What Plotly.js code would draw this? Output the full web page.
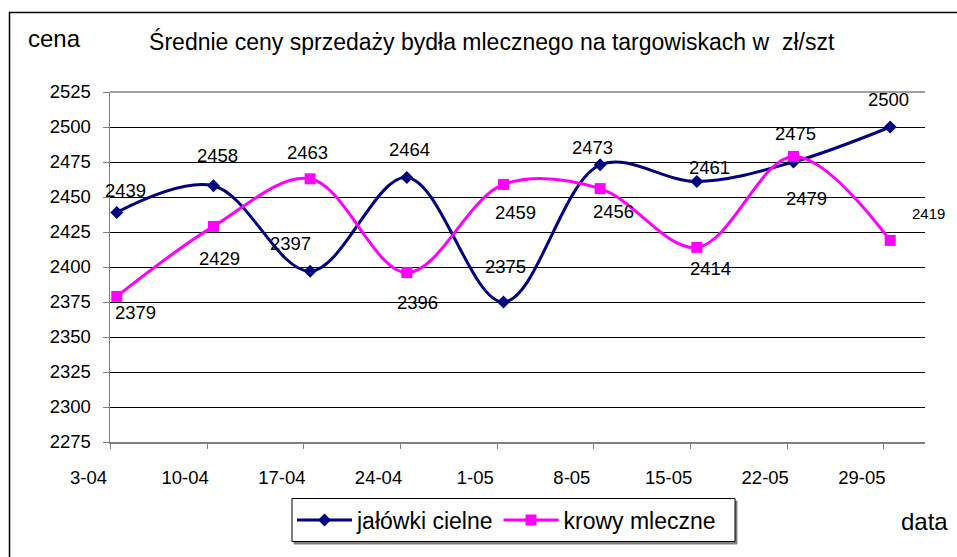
<!DOCTYPE html>
<html>
<head>
<meta charset="utf-8">
<script src="https://cdn.plot.ly/plotly-3.0.1.min.js"></script>
<style>
  html, body { margin: 0; padding: 0; background: #fff; }
  #chart { width: 957px; height: 557px; }
</style>
</head>
<body>
<div id="chart"></div>
<script>
// ---- data ----
const dates = ["3-04", "10-04", "17-04", "24-04", "1-05", "8-05", "15-05", "22-05", "29-05"];
const jalowki = [2439, 2458, 2397, 2464, 2375, 2473, 2461, 2475, 2500];
const krowy = [2379, 2429, 2463, 2396, 2459, 2456, 2414, 2479, 2419];
const seriesNames = ["jałówki cielne", "krowy mleczne"];
const yTicks = [2275, 2300, 2325, 2350, 2375, 2400, 2425, 2450, 2475, 2500, 2525];

// ---- label offsets (style, px) ----
const offA = [[9,-22],[4,-30],[-20,-28],[3,-28],[2,-36],[-8,-17],[13,-14],[2,-29],[-2,-28]];
const offB = [[19,16],[6,32],[-3,-26],[11,30],[12,28],[13,23],[14,21],[13,42],[38,-27]];

const FONT = "Arial, 'Liberation Sans', sans-serif";
const xIdx = dates.map((d, i) => i);

const traces = [
  {
    x: xIdx, y: jalowki, name: seriesNames[0], type: "scatter", mode: "lines+markers",
    line: { color: "#000080", width: 3, shape: "spline", smoothing: 1 },
    marker: { symbol: "diamond", size: 10, color: "#000080" }
  },
  {
    x: xIdx, y: krowy, name: seriesNames[1], type: "scatter", mode: "lines+markers",
    line: { color: "#FF00FF", width: 3, shape: "spline", smoothing: 1 },
    marker: { symbol: "square", size: 11, color: "#FF00FF" }
  }
];

const annotations = [];
jalowki.forEach((v, i) => annotations.push({
  x: i, y: v, xref: "x", yref: "y", text: String(v), showarrow: false,
  xanchor: "center", yanchor: "middle",
  xshift: offA[i][0], yshift: -offA[i][1], font: { family: FONT, size: 18.5, color: "#000" }
}));
krowy.forEach((v, i) => annotations.push({
  x: i, y: v, xref: "x", yref: "y", text: String(v), showarrow: false,
  xanchor: "center", yanchor: "middle",
  xshift: offB[i][0], yshift: -offB[i][1],
  font: { family: FONT, size: i === krowy.length - 1 ? 15 : 18.5, color: "#000" }
}));
annotations.push({
  x: -0.0687, y: 1.1517, xref: "paper", yref: "paper", text: "cena", showarrow: false,
  xanchor: "center", yanchor: "middle",
  font: { family: FONT, size: 24, color: "#000" }
});
annotations.push({
  x: 0.9988, y: -0.2274, xref: "paper", yref: "paper", text: "data", showarrow: false,
  xanchor: "center", yanchor: "middle",
  font: { family: FONT, size: 24, color: "#000" }
});

const layout = {
  width: 957, height: 557,
  margin: { l: 110, r: 32, t: 92, b: 115 },
  paper_bgcolor: "#fff", plot_bgcolor: "#fff",
  font: { family: FONT, color: "#000" },
  title: {
    text: "Średnie ceny sprzedaży bydła mlecznego na targowiskach w  zł/szt",
    font: { family: FONT, size: 23, color: "#000" },
    x: 0.5138, xref: "container", xanchor: "center",
    y: 0.9246, yref: "container", yanchor: "middle"
  },
  xaxis: {
    type: "linear", range: [-0.07, 8.36],
    tickmode: "array", tickvals: xIdx.map(i => i - 0.065), ticktext: dates,
    ticks: "outside", ticklen: 5, tickcolor: "#808080",
    showline: true, linecolor: "#808080", linewidth: 1.5,
    showgrid: false, zeroline: false,
    tickfont: { family: FONT, size: 18.5, color: "#000" },
    ticklabelshift: -22, ticklabelstandoff: 13
  },
  yaxis: {
    range: [2275, 2525], tickmode: "array", tickvals: yTicks,
    ticks: "outside", ticklen: 6, tickcolor: "#808080",
    showline: true, linecolor: "#808080", linewidth: 1.5,
    showgrid: true, gridcolor: "#000", gridwidth: 1, zeroline: false,
    tickfont: { family: FONT, size: 18.5, color: "#000" },
    ticklabelstandoff: 8
  },
  showlegend: true,
  legend: {
    orientation: "h", x: 0.2233, y: -0.2229, xanchor: "left", yanchor: "middle",
    borderwidth: 0, bgcolor: "rgba(0,0,0,0)", itemwidth: 55,
    font: { family: FONT, size: 23, color: "#000" }
  },
  shapes: [
    { type: "line", xref: "paper", yref: "paper", x0: 0, x1: 1, y0: 1, y1: 1,
      line: { color: "#808080", width: 1.5 }, layer: "above" },
    { type: "rect", xref: "paper", yref: "paper", x0: -0.1233, x1: 1.043, y0: -0.337, y1: 1.227,
      line: { color: "#000", width: 1.5 }, fillcolor: "rgba(0,0,0,0)", layer: "below" },
    // legend box shadow + frame
    { type: "rect", xref: "paper", yref: "paper", x0: 0.2258, x1: 0.7693, y0: -0.2914, y1: -0.1686,
      line: { color: "#808080", width: 1 }, fillcolor: "#808080", layer: "below" },
    { type: "rect", xref: "paper", yref: "paper", x0: 0.2233, x1: 0.7669, y0: -0.2843, y1: -0.1614,
      line: { color: "#000", width: 1 }, fillcolor: "#fff", layer: "below" }
  ],
  annotations: annotations
};

Plotly.newPlot("chart", traces, layout, { displayModeBar: false, staticPlot: true });
</script>
</body>
</html>
